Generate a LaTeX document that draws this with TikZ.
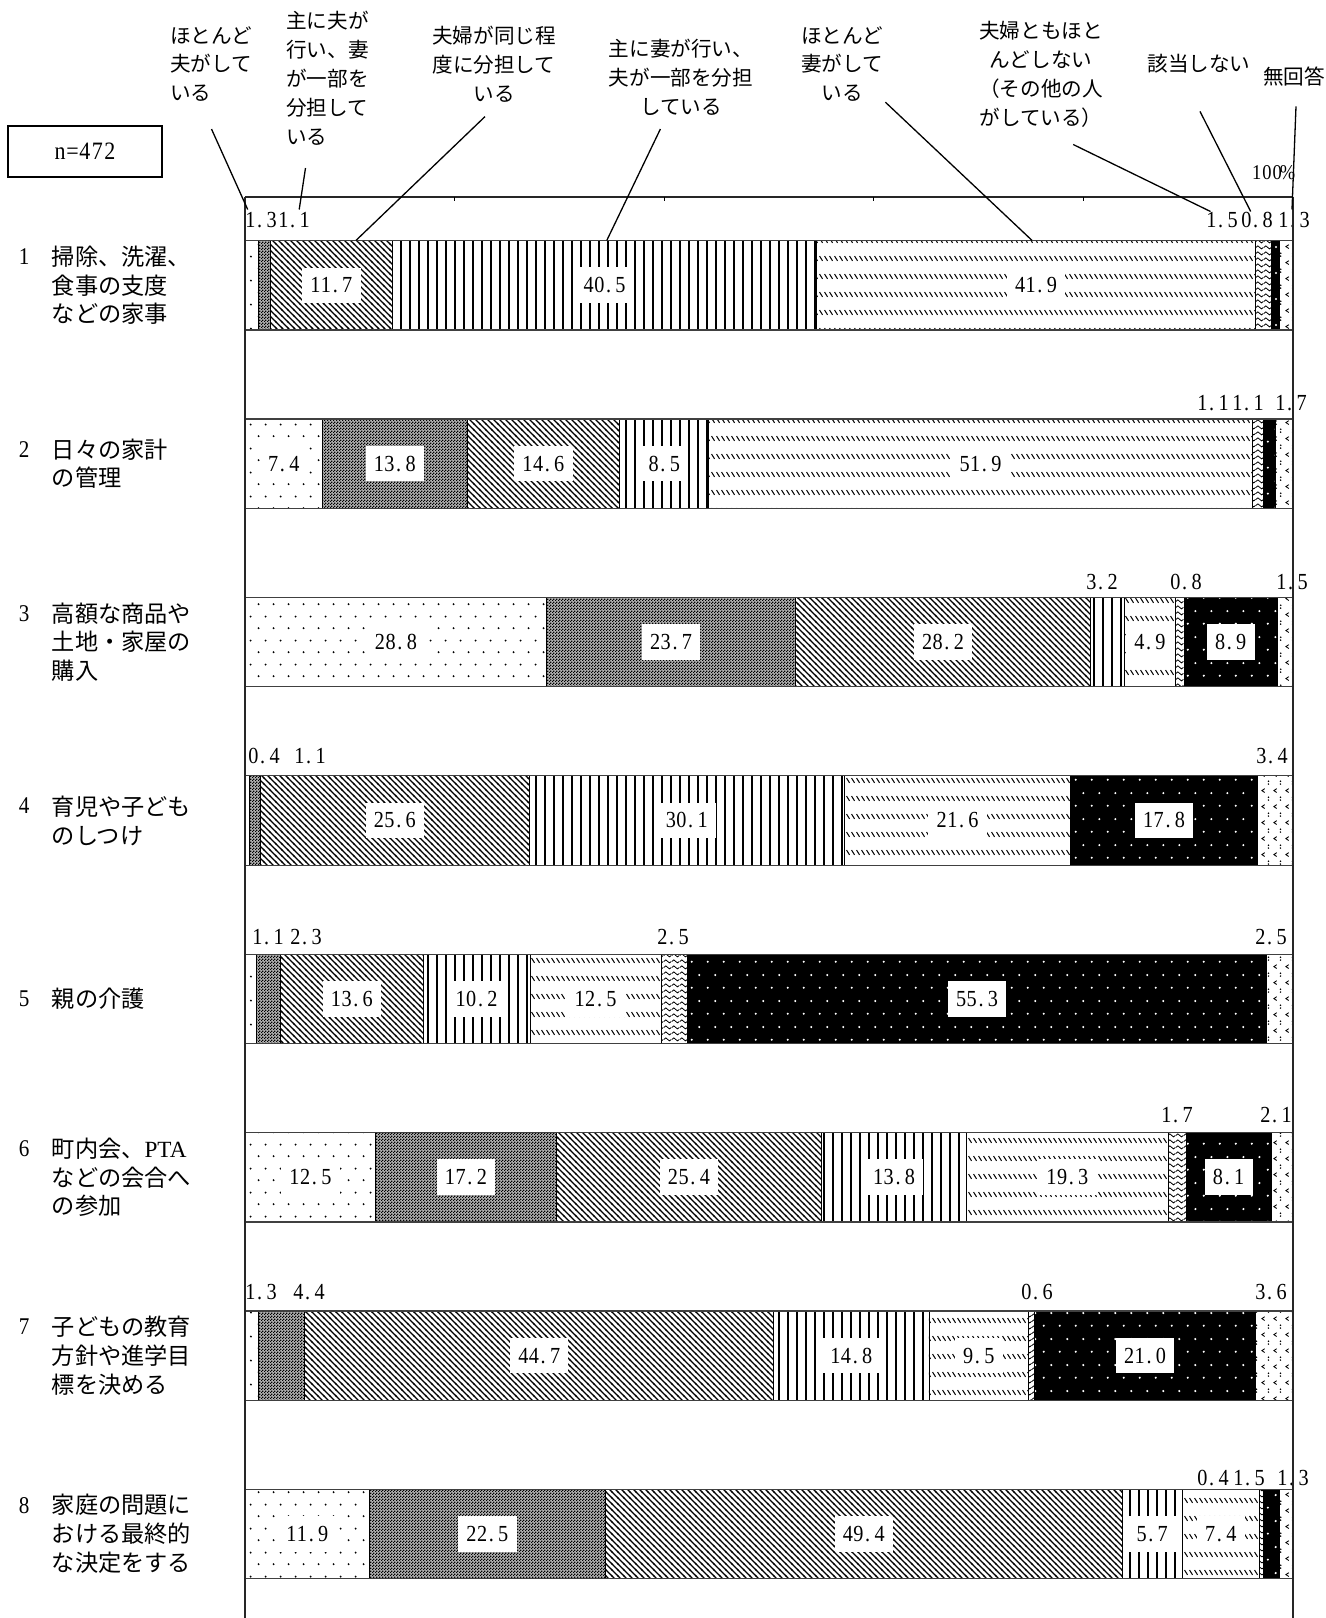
\documentclass[tikz,border=0pt]{standalone}
\usepackage{fontspec}
\setmainfont{Liberation Serif}
\newfontfamily\numfont[FakeStretch=0.88]{Liberation Serif}
\newfontfamily\cjk{Noto Sans CJK JP}
\usetikzlibrary{patterns}

\pgfdeclarepatternformonly{hdots}{\pgfqpoint{0pt}{0pt}}{\pgfqpoint{15pt}{24pt}}{\pgfqpoint{15pt}{24pt}}{%
  \pgfpathcircle{\pgfqpoint{3.75pt}{6pt}}{1.1pt}%
  \pgfpathcircle{\pgfqpoint{11.25pt}{18pt}}{1.1pt}%
  \pgfusepath{fill}}
\pgfdeclarepatternformonly{checker}{\pgfqpoint{0pt}{0pt}}{\pgfqpoint{3pt}{3pt}}{\pgfqpoint{3pt}{3pt}}{%
  \pgfpathrectangle{\pgfqpoint{0pt}{0pt}}{\pgfqpoint{1.5pt}{1.5pt}}%
  \pgfpathrectangle{\pgfqpoint{1.5pt}{1.5pt}}{\pgfqpoint{1.5pt}{1.5pt}}%
  \pgfusepath{fill}}
\pgfdeclarepatternformonly{bslash}{\pgfqpoint{-1pt}{-1pt}}{\pgfqpoint{7pt}{7pt}}{\pgfqpoint{6pt}{6pt}}{%
  \pgfsetlinewidth{1.2pt}%
  \pgfpathmoveto{\pgfqpoint{-1pt}{7pt}}\pgfpathlineto{\pgfqpoint{7pt}{-1pt}}%
  \pgfusepath{stroke}}
\pgfdeclarepatternformonly{vlines}{\pgfqpoint{0pt}{-1pt}}{\pgfqpoint{9pt}{2pt}}{\pgfqpoint{9pt}{1pt}}{%
  \pgfsetlinewidth{2pt}%
  \pgfpathmoveto{\pgfqpoint{4.5pt}{-1pt}}\pgfpathlineto{\pgfqpoint{4.5pt}{2pt}}%
  \pgfusepath{stroke}}
\pgfdeclarepatternformonly{wband}{\pgfqpoint{0pt}{0pt}}{\pgfqpoint{4.5pt}{18pt}}{\pgfqpoint{4.5pt}{18pt}}{%
  \pgfsetlinewidth{1.1pt}%
  \pgfpathmoveto{\pgfqpoint{0.6pt}{12.5pt}}\pgfpathlineto{\pgfqpoint{3.9pt}{7.5pt}}%
  \pgfusepath{stroke}}
\pgfdeclarepatternformonly{wavy}{\pgfqpoint{0pt}{0pt}}{\pgfqpoint{8pt}{6pt}}{\pgfqpoint{8pt}{6pt}}{%
  \pgfsetlinewidth{0.9pt}%
  \pgfpathmoveto{\pgfqpoint{0pt}{3pt}}%
  \pgfpathcurveto{\pgfqpoint{1.3pt}{5.3pt}}{\pgfqpoint{2.7pt}{5.3pt}}{\pgfqpoint{4pt}{3pt}}%
  \pgfpathcurveto{\pgfqpoint{5.3pt}{0.7pt}}{\pgfqpoint{6.7pt}{0.7pt}}{\pgfqpoint{8pt}{3pt}}%
  \pgfusepath{stroke}}
\pgfdeclarepatternformonly{wdots}{\pgfqpoint{0pt}{0pt}}{\pgfqpoint{16pt}{26pt}}{\pgfqpoint{16pt}{26pt}}{%
  \pgfpathcircle{\pgfqpoint{4pt}{6.5pt}}{1.2pt}%
  \pgfpathcircle{\pgfqpoint{12pt}{19.5pt}}{1.2pt}%
  \pgfusepath{fill}}
\pgfdeclarepatternformonly{chev}{\pgfqpoint{0pt}{0pt}}{\pgfqpoint{12pt}{16pt}}{\pgfqpoint{12pt}{16pt}}{%
  \pgfsetlinewidth{0.9pt}%
  \pgfpathmoveto{\pgfqpoint{5pt}{14pt}}\pgfpathlineto{\pgfqpoint{2pt}{12pt}}\pgfpathlineto{\pgfqpoint{5pt}{10pt}}%
  \pgfusepath{stroke}%
  \pgfpathcircle{\pgfqpoint{9pt}{5pt}}{0.9pt}%
  \pgfpathcircle{\pgfqpoint{9pt}{2pt}}{0.9pt}%
  \pgfusepath{fill}}

% half-width monospaced number setting
\newlength\cellw
\setlength\cellw{10.6pt}
\def\fmt#1{\expandafter\fmtA#1\relax}
\def\fmtA#1{\ifx#1\relax\else
  \ifx#1.\makebox[\cellw][l]{\kern1.5pt.}\else\makebox[\cellw][c]{#1}\fi
  \expandafter\fmtA\fi}

\tikzset{
  seg1/.style={pattern=hdots},
  seg2/.style={fill=black!30, postaction={pattern=checker}},
  seg3/.style={pattern=bslash},
  seg4/.style={pattern=vlines},
  seg5/.style={pattern=wband},
  seg6/.style={pattern=wavy},
  seg7/.style={fill=black, postaction={pattern=wdots, pattern color=white}},
  seg8/.style={pattern=chev},
  segborder/.style={draw=black, line width=0.9pt},
  inlab/.style={fill=white, inner xsep=8pt, inner ysep=10pt, font=\numfont\fontsize{23}{26}\selectfont},
  uplab/.style={inner sep=0pt, font=\numfont\fontsize{23}{26}\selectfont},
  hdr/.style={font=\cjk\fontsize{20.6}{28.9}\selectfont, inner sep=0pt},
  rowlab/.style={font=\cjk\fontsize{23.2}{28.9}\selectfont, inner sep=0pt, align=left, anchor=west},
  rownum/.style={font=\numfont\fontsize{24}{26}\selectfont, inner sep=0pt, anchor=west},
  leader/.style={line width=1.3pt},
  axisline/.style={line width=1.3pt, draw=black!85},
}

\newcommand\drawbar[3]{%
  \xdef\rsum{0}%
  \foreach \v in {#3}{\pgfmathsetmacro\tmpa{\rsum+\v}\xdef\rsum{\tmpa}}%
  \xdef\cum{0}%
  \foreach \v [count=\i] in {#3}{%
    \pgfmathsetmacro\xa{245+\cum/\rsum*1048}%
    \pgfmathsetmacro\tmpa{\cum+\v}\xdef\cum{\tmpa}%
    \pgfmathsetmacro\xb{245+\cum/\rsum*1048}%
    \ifdim\v pt>0.05pt
      \edef\tmpb{\noexpand\path[seg\i] (\xa,#2) rectangle (\xb,#2+89.5);}\tmpb
      \draw[segborder] (\xa,#2) rectangle (\xb,#2+89.5);
      \ifdim\v pt>4.5pt
        \node[inlab] (v#1-\i) at ({(\xa+\xb)/2},#2+44.75) {\fmt\v};
      \fi
    \fi
  }%
  \draw[line width=1.2pt, draw=black!75] (245,#2) rectangle (1293,#2+89.5);
}

\begin{document}
\begin{tikzpicture}[x=1pt,y=-1pt]
\useasboundingbox[fill=white] (0,0) rectangle (1326,1618);

% n box
\node[draw, line width=1.3pt, minimum width=154pt, minimum height=51pt, inner sep=0pt,
      font=\numfont\fontsize{25}{28}\selectfont] (nbox) at (85,151.5) {\setlength\cellw{12.4pt}\fmt{n=472}};

% header labels
\node[hdr, align=left, anchor=west] (hA) at (170,64) {ほとんど\\夫がして\\いる};
\node[hdr, align=left, anchor=west] (hB) at (286,78.5) {主に夫が\\行い、妻\\が一部を\\分担して\\いる};
\node[hdr, align=center] (hC) at (494,64) {夫婦が同じ程\\度に分担して\\いる};
\node[hdr, align=center] (hD) at (681,77) {主に妻が行い、\\夫が一部を分担\\している};
\node[hdr, align=center] (hE) at (842,64) {ほとんど\\妻がして\\いる};
\node[hdr, align=center] (hF) at (1041,74.5) {夫婦ともほと\\んどしない\\（その他の人\\がしている）};
\node[hdr] (hG) at (1199,64) {該当しない};
\node[hdr] (hH) at (1294,77) {無回答};

\node[inner sep=0pt, font=\numfont\fontsize{21}{24}\selectfont, anchor=east] (pct) at (1293,173) {\setlength\cellw{10.3pt}\fmt{100\%}};

% row labels
\node[rownum] (n1) at (18.6,256.4) {1};
\node[rowlab] (t1) at (51.6,285.3) {掃除、洗濯、\\食事の支度\\などの家事};
\node[rownum] (n2) at (18.6,449.2) {2};
\node[rowlab] (t2) at (51.6,463.7) {日々の家計\\の管理};
\node[rownum] (n3) at (18.6,613.2) {3};
\node[rowlab] (t3) at (51.6,642.1) {高額な商品や\\土地・家屋の\\購入};
\node[rownum] (n4) at (18.6,806) {4};
\node[rowlab] (t4) at (51.6,820.5) {育児や子ども\\のしつけ};
\node[rownum] (n5) at (18.6,998.9) {5};
\node[rowlab] (t5) at (51.6,998.9) {親の介護};
\node[rownum] (n6) at (18.6,1148.4) {6};
\node[rowlab] (t6) at (51.6,1177.3) {町内会、{\rmfamily PTA}\\などの会合へ\\の参加};
\node[rownum] (n7) at (18.6,1326.8) {7};
\node[rowlab] (t7) at (51.6,1355.7) {子どもの教育\\方針や進学目\\標を決める};
\node[rownum] (n8) at (18.6,1505.2) {8};
\node[rowlab] (t8) at (51.6,1534.1) {家庭の問題に\\おける最終的\\な決定をする};

% bars
\drawbar{1}{240.5}{1.3,1.1,11.7,40.5,41.9,1.5,0.8,1.3}
\drawbar{2}{418.9}{7.4,13.8,14.6,8.5,51.9,1.1,1.1,1.7}
\drawbar{3}{597.3}{28.8,23.7,28.2,3.2,4.9,0.8,8.9,1.5}
\drawbar{4}{775.7}{0.4,1.1,25.6,30.1,21.6,0,17.8,3.4}
\drawbar{5}{954.1}{1.1,2.3,13.6,10.2,12.5,2.5,55.3,2.5}
\drawbar{6}{1132.5}{12.5,17.2,25.4,13.8,19.3,1.7,8.1,2.1}
\drawbar{7}{1310.9}{1.3,4.4,44.7,14.8,9.5,0.6,21.0,3.6}
\drawbar{8}{1489.3}{11.9,22.5,49.4,5.7,7.4,0.4,1.5,1.3}

% small value labels above bars
\node[uplab] (a1a) at (261,220) {\fmt{1.3}};
\node[uplab] (a1b) at (294,220) {\fmt{1.1}};
\node[uplab] (a1c) at (1222,220) {\fmt{1.5}};
\node[uplab] (a1d) at (1257,220) {\fmt{0.8}};
\node[uplab] (a1e) at (1294,220) {\fmt{1.3}};
\node[uplab] (a2a) at (1213,403.5) {\fmt{1.1}};
\node[uplab] (a2b) at (1248,403.5) {\fmt{1.1}};
\node[uplab] (a2c) at (1291,403.5) {\fmt{1.7}};
\node[uplab] (a3a) at (1102,582) {\fmt{3.2}};
\node[uplab] (a3b) at (1186,582) {\fmt{0.8}};
\node[uplab] (a3c) at (1292,582) {\fmt{1.5}};
\node[uplab] (a4a) at (264,756.5) {\fmt{0.4}};
\node[uplab] (a4b) at (310,756.5) {\fmt{1.1}};
\node[uplab] (a4c) at (1272,756.5) {\fmt{3.4}};
\node[uplab] (a5a) at (268,937) {\fmt{1.1}};
\node[uplab] (a5b) at (306,937) {\fmt{2.3}};
\node[uplab] (a5c) at (673,937) {\fmt{2.5}};
\node[uplab] (a5d) at (1271,937) {\fmt{2.5}};
\node[uplab] (a6a) at (1177,1115.5) {\fmt{1.7}};
\node[uplab] (a6b) at (1276,1115.5) {\fmt{2.1}};
\node[uplab] (a7a) at (261,1292) {\fmt{1.3}};
\node[uplab] (a7b) at (309,1292) {\fmt{4.4}};
\node[uplab] (a7c) at (1037,1292) {\fmt{0.6}};
\node[uplab] (a7d) at (1271,1292) {\fmt{3.6}};
\node[uplab] (a8a) at (1213,1477.7) {\fmt{0.4}};
\node[uplab] (a8b) at (1249,1477.7) {\fmt{1.5}};
\node[uplab] (a8c) at (1293,1477.7) {\fmt{1.3}};

% axis frame
\coordinate (axTL) at (245,197);
\coordinate (axTR) at (1293,197);
\coordinate (axBL) at (245,1618);
\coordinate (axBR) at (1293,1618);
\draw[axisline] (axTL) -- (axTR);
\draw[axisline] (axTL) -- (axBL);
\draw[axisline] (axTR) -- (axBR);
\foreach \k in {1,...,4} {\draw[line width=0.8pt] (245+209.6*\k,197) -- ++(0,4);}

% leader lines
\coordinate (L1a) at (211.5,129);   \coordinate (L1b) at (247.7,209.5);
\coordinate (L2a) at (305.5,168);   \coordinate (L2b) at (299.2,209.5);
\coordinate (L3a) at (485,116.6);   \coordinate (L3b) at (356,240.4);
\coordinate (L4a) at (660.4,129);   \coordinate (L4b) at (606.8,240.4);
\coordinate (L5a) at (885.4,102.2); \coordinate (L5b) at (1032,240.4);
\coordinate (L6a) at (1073.2,144.5);\coordinate (L6b) at (1210.5,211.5);
\coordinate (L7a) at (1200,111.4);  \coordinate (L7b) at (1250.7,211.5);
\coordinate (L8a) at (1296,106.3);  \coordinate (L8b) at (1292,209.5);
\foreach \j in {1,...,8} {\draw[leader] (L\j a) -- (L\j b);}
\end{tikzpicture}
\end{document}
